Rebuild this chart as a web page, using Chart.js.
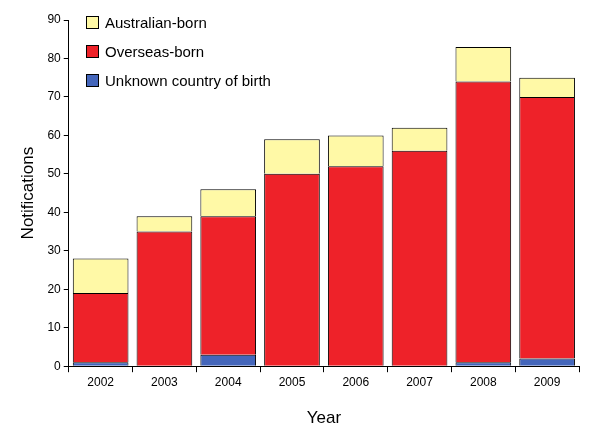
<!DOCTYPE html>
<html>
<head>
<meta charset="utf-8">
<script src="https://cdn.jsdelivr.net/npm/chart.js@4"></script>
<style>
  body { margin: 0; background: #fff; font-family: Arial, "Liberation Sans", sans-serif; overflow: hidden; }
  #wrap { position: relative; width: 595px; height: 423px; overflow: hidden; }
  #legend { position: absolute; left: 86px; top: 8px; font-size: 15px; color: #000; }
  #legend div { height: 29px; display: flex; align-items: center; }
  #legend span { display: inline-block; width: 11px; height: 11px; border: 1px solid #000; margin-right: 6px; }
</style>
</head>
<body>
<div id="wrap">
  <canvas id="chart" width="595" height="433"></canvas>
  <div id="legend">
    <div><span style="background:#FFF9A6"></span>Australian-born</div>
    <div><span style="background:#EE2229"></span>Overseas-born</div>
    <div><span style="background:#4466BB"></span>Unknown country of birth</div>
  </div>
</div>
<script>
const years = ['2002', '2003', '2004', '2005', '2006', '2007', '2008', '2009'];
const unknownBorn = [1, 0, 3, 0, 0, 0, 1, 2];
const overseasBorn = [18, 35, 36, 50, 52, 56, 73, 68];
const australianBorn = [9, 4, 7, 9, 8, 6, 9, 5];

function bar(label, data, color) {
    return { label: label, data: data, backgroundColor: color, borderColor: '#000', borderWidth: 1, categoryPercentage: 0.9, barPercentage: 0.97 };
}

new Chart(document.getElementById('chart'), {
    type: 'bar',
    data: {
        labels: years,
        datasets: [
            bar('Unknown country of birth', unknownBorn, '#4466BB'),
            bar('Overseas-born', overseasBorn, '#EE2229'),
            bar('Australian-born', australianBorn, '#FFF9A6')
        ]
    },
    options: {
        responsive: false,
        animation: false,
        layout: { padding: { top: 20, right: 16, left: 14, bottom: 0 } },
        plugins: { legend: { display: false }, tooltip: { enabled: false } },
        scales: {
            x: {
                stacked: true,
                grid: { drawOnChartArea: false, color: '#000', tickLength: 6 },
                border: { color: '#000' },
                ticks: { color: '#000', font: { size: 12 } },
                title: { display: true, text: 'Year', color: '#000', font: { size: 17 }, padding: { top: 16 } }
            },
            y: {
                stacked: true,
                min: 0, max: 90,
                grid: { drawOnChartArea: false, color: '#000', tickLength: 5 },
                border: { color: '#000' },
                ticks: { stepSize: 10, color: '#000', font: { size: 12 } },
                title: { display: true, text: 'Notifications', color: '#000', font: { size: 17 }, padding: { bottom: 6 } }
            }
        }
    }
});
</script>
</body>
</html>
